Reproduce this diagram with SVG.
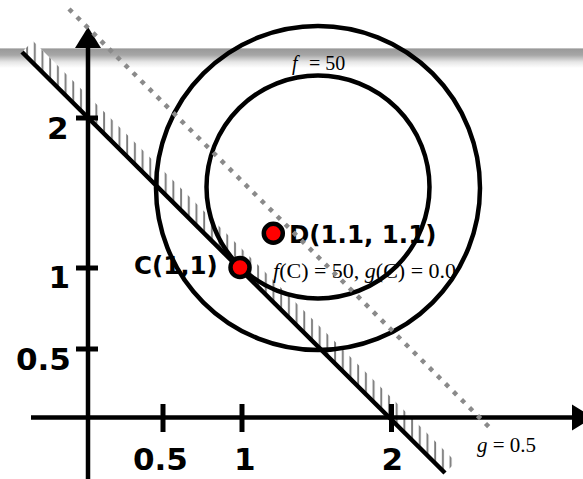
<svg xmlns="http://www.w3.org/2000/svg" width="583" height="479" viewBox="0 0 583 479">
<style>
.ax{stroke:#000;stroke-width:4.5;fill:none}
.tk{stroke:#000;stroke-width:5;fill:none}
.circ{stroke:#000;stroke-width:4.5;fill:none}
.pt{fill:#f00;stroke:#000;stroke-width:4.5}
.lb{font-family:"DejaVu Sans",Verdana,sans-serif;font-weight:bold;fill:#000}
.al{font-size:31px}
.pl{font-size:24.5px}
.mt{font-family:"Liberation Serif","Times New Roman",serif;fill:#000}
.it{font-style:italic}
</style>
<defs>
<linearGradient id="band" x1="0" y1="0" x2="0" y2="1">
<stop offset="0" stop-color="#d4d4d4"/>
<stop offset="0.07" stop-color="#9a9a9a"/>
<stop offset="0.35" stop-color="#a6a6a6"/>
<stop offset="0.7" stop-color="#e6e6e6"/>
<stop offset="1" stop-color="#ffffff"/>
</linearGradient>
<pattern id="hatch" patternUnits="userSpaceOnUse" x="1" y="0" width="7.7" height="10">
<line x1="3" y1="-1" x2="3" y2="11" stroke="#7a7a7a" stroke-width="1.9"/>
</pattern>
</defs>
<rect x="0" y="48" width="583" height="20" fill="url(#band)"/>
<g id="hatch-band">
<polygon points="22,52 445,473 456,462 33,41" fill="#fff"/>
<polygon points="22,52 445,473 456,462 33,41" fill="url(#hatch)"/>
</g>
<g id="axes">
<line class="ax" x1="88" y1="46" x2="88" y2="479"/>
<polygon points="88,27 75,48 101,48" fill="#000"/>
<line class="ax" x1="31" y1="417.5" x2="574" y2="417.5"/>
<polygon points="572,404.5 572,430.5 593,417.5" fill="#000"/>
<line class="tk" x1="76" y1="118" x2="98" y2="118"/>
<line class="tk" x1="76" y1="268" x2="98" y2="268"/>
<line class="tk" x1="76" y1="349" x2="98" y2="349"/>
<line class="tk" x1="163" y1="404" x2="163" y2="432"/>
<line class="tk" x1="242" y1="404" x2="242" y2="432"/>
<line class="tk" x1="391.5" y1="404" x2="391.5" y2="432"/>
</g>
<g id="contours">
<circle class="circ" cx="318" cy="188" r="162"/>
<circle class="circ" cx="318" cy="187" r="111.5"/>
</g>
<g id="connectors">
<line id="g0" x1="22" y1="52" x2="445" y2="473" stroke="#000" stroke-width="4.5"/>
</g>
<g id="axis-labels" class="lb al">
<text x="47" y="139">2</text>
<text x="48.5" y="288">1</text>
<text x="16" y="370">0.5</text>
<text x="133" y="470">0.5</text>
<text x="234" y="470">1</text>
<text x="381.5" y="470">2</text>
</g>
<g id="node-C">
<circle class="pt" cx="240" cy="267.5" r="9.5"/>
<text class="lb pl" x="134" y="274">C(1,1)</text>
</g>
<g id="node-D">
<circle class="pt" cx="273.3" cy="233.3" r="9.5"/>
<text class="lb pl" x="289" y="243">D(1.1, 1.1)</text>
</g>
<g id="labels">
<text class="mt" font-size="20" x="292" y="70"><tspan class="it">f</tspan><tspan x="309">= 50</tspan></text>
<text class="mt" font-size="22" x="273" y="278"><tspan class="it">f</tspan>(C) = 50, <tspan class="it">g</tspan>(C) = 0.0</text>
<text class="mt" font-size="21" x="477" y="452"><tspan class="it">g</tspan> = 0.5</text>
</g>
<g id="g05">
<line x1="69" y1="9" x2="492" y2="430" stroke="#8a8a8a" stroke-width="4.5" stroke-dasharray="4.5 6.8"/>
</g>
</svg>
